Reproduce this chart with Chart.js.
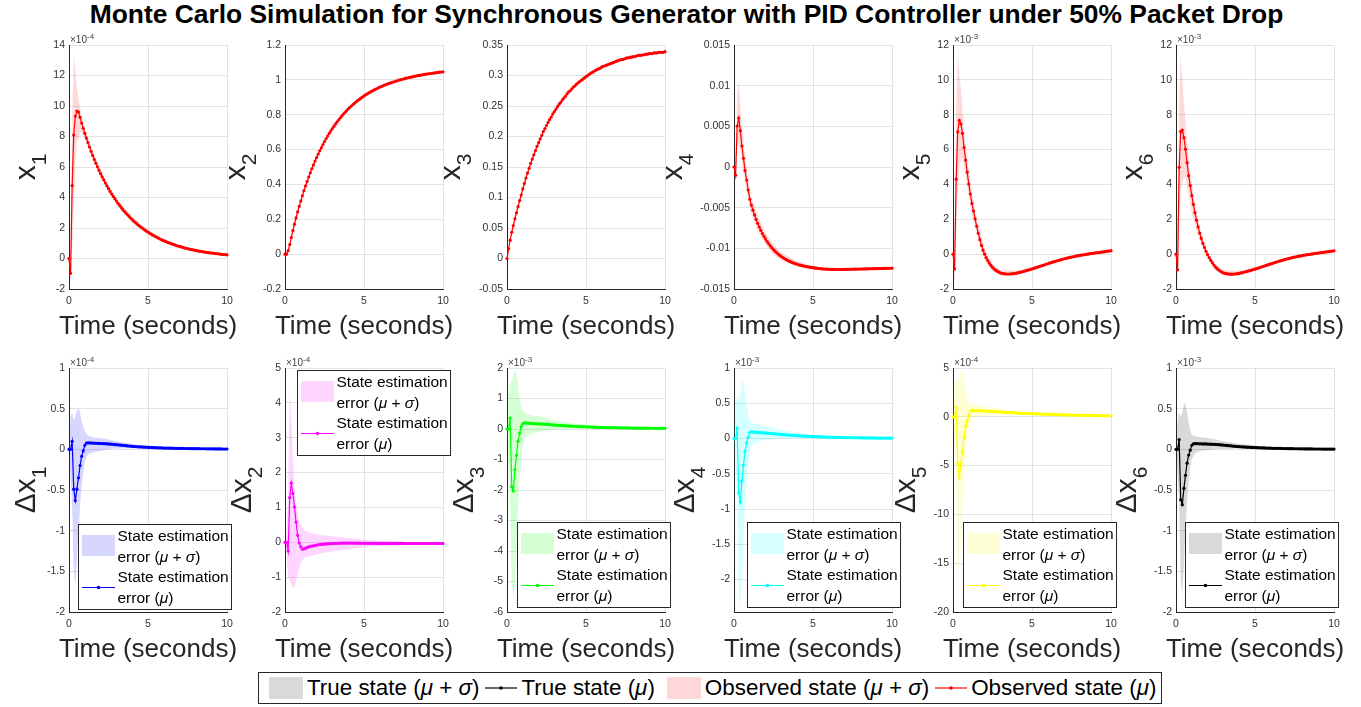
<!DOCTYPE html>
<html><head><meta charset="utf-8">
<script src="https://cdn.jsdelivr.net/npm/chart.js@4.4.0/dist/chart.umd.min.js"></script>
<style>
html,body{margin:0;padding:0;background:#fff;}
body{width:1361px;height:707px;position:relative;overflow:hidden;font-family:"Liberation Sans",Arial,sans-serif;}
#title{position:absolute;left:0;top:1px;width:1373px;text-align:center;font-weight:bold;font-size:26.4px;line-height:26px;color:#000;white-space:nowrap;}
#lg{position:absolute;left:258px;top:672px;width:902px;height:30px;border:1px solid #262626;display:flex;align-items:center;font-size:22.4px;color:#000;white-space:nowrap;background:#fff;}
#lg .sw{display:inline-block;width:34px;height:22px;margin-left:12px;margin-right:4px;}
#lg .ls{margin-left:6px;margin-right:4px;}
#lg i{font-style:italic;}
</style></head><body>
<div id="title">Monte Carlo Simulation for Synchronous Generator with PID Controller under 50% Packet Drop</div>
<div id="lg">
<span class="sw" style="background:rgba(0,0,0,0.15);margin-left:10px"></span><span>True state (<i>μ</i> + <i>σ</i>)</span>
<svg class="ls" width="32" height="10"><line x1="0" y1="5" x2="32" y2="5" stroke="#000" stroke-width="1.2"/><circle cx="16" cy="5" r="1.8" fill="#000"/></svg><span>True state (<i>μ</i>)</span>
<span class="sw" style="background:rgba(255,0,0,0.15)"></span><span>Observed state (<i>μ</i> + <i>σ</i>)</span>
<svg class="ls" width="32" height="10"><line x1="0" y1="5" x2="32" y2="5" stroke="#f00" stroke-width="1.2"/><circle cx="16" cy="5" r="1.8" fill="#f00"/></svg><span>Observed state (<i>μ</i>)</span>
</div>
<script>
// ---------- time axis ----------
const time = [0,0.1,0.2,0.3,0.4,0.5,0.6,0.7,0.8,0.9,1,1.1,1.2,1.3,1.4,1.5,1.6,1.7,1.8,1.9,2,2.1,2.2,2.3,2.4,2.5,2.6,2.7,2.8,2.9,3,3.1,3.2,3.3,3.4,3.5,3.6,3.7,3.8,3.9,4,4.1,4.2,4.3,4.4,4.5,4.6,4.7,4.8,4.9,5,5.1,5.2,5.3,5.4,5.5,5.6,5.7,5.8,5.9,6,6.1,6.2,6.3,6.4,6.5,6.6,6.7,6.8,6.9,7,7.1,7.2,7.3,7.4,7.5,7.6,7.7,7.8,7.9,8,8.1,8.2,8.3,8.4,8.5,8.6,8.7,8.8,8.9,9,9.1,9.2,9.3,9.4,9.5,9.6,9.7,9.8,9.9,10];
const bandTime = [0,0.1,0.2,0.3,0.4,0.5,0.6,0.7,0.8,0.9,1,1.2,1.5,2,2.5,3,4,5,6,7,8,9,10];
const xTicks = [0,5,10];

// ---------- observed states (mean, upper and lower of mu +/- sigma) ----------
// x1 in units of 1e-4
const x1Mean = [0,-0.97,4.78,8.10,9.34,9.67,9.60,9.26,8.88,8.54,8.21,
7.90,7.60,7.31,7.03,6.76,6.50,6.25,6.01,5.78,5.56,
5.35,5.15,4.95,4.76,4.58,4.40,4.23,4.07,3.92,3.77,
3.62,3.48,3.35,3.22,3.10,2.98,2.87,2.76,2.65,2.55,
2.45,2.36,2.27,2.18,2.10,2.02,1.94,1.87,1.79,1.73,
1.66,1.60,1.53,1.48,1.42,1.37,1.31,1.26,1.21,1.17,
1.12,1.08,1.04,1.00,0.96,0.92,0.89,0.85,0.82,0.79,
0.76,0.73,0.70,0.67,0.65,0.62,0.60,0.58,0.55,0.53,
0.51,0.49,0.47,0.46,0.44,0.42,0.40,0.39,0.37,0.36,
0.35,0.33,0.32,0.31,0.30,0.28,0.27,0.26,0.25,0.24];
const x1Upper = [0.1,-0.3,9.0,13.4,12.3,11.2,10.4,9.9,9.3,8.9,8.55,7.9,7.0,5.8,4.8,3.95,2.72,1.85,1.25,0.86,0.58,0.41,0.29];
const x1Lower = [-0.1,-1.7,0.6,3.0,6.4,7.75,7.8,8.3,8.3,8.1,7.85,7.3,6.5,5.35,4.4,3.6,2.4,1.63,1.08,0.72,0.48,0.31,0.19];

const x2Mean = [0,0,0.02,0.055,0.095,0.135,0.172,0.208,0.242,0.274,0.305,
0.335,0.364,0.391,0.417,0.442,0.467,0.490,0.512,0.534,0.554,
0.574,0.593,0.611,0.629,0.646,0.662,0.678,0.693,0.707,0.721,
0.734,0.747,0.759,0.771,0.782,0.793,0.804,0.814,0.823,0.833,
0.842,0.850,0.858,0.866,0.874,0.881,0.888,0.895,0.901,0.908,
0.914,0.919,0.925,0.930,0.935,0.940,0.945,0.949,0.954,0.958,
0.962,0.966,0.970,0.973,0.977,0.980,0.983,0.986,0.989,0.992,
0.995,0.998,1.000,1.003,1.005,1.008,1.010,1.012,1.014,1.016,
1.018,1.020,1.022,1.024,1.026,1.027,1.029,1.031,1.032,1.034,
1.035,1.036,1.038,1.039,1.040,1.041,1.043,1.044,1.045,1.046];
const x2Upper = [0.005,0.008,0.032,0.070,0.111,0.152,0.189,0.225,0.259,0.290,0.321,0.379,0.456,0.566,0.656,0.730,0.840,0.914,0.963,0.997,1.020,1.038,1.050];
const x2Lower = [-0.005,-0.008,0.008,0.040,0.079,0.118,0.155,0.191,0.225,0.258,0.289,0.349,0.428,0.542,0.636,0.712,0.826,0.902,0.953,0.987,1.012,1.030,1.042];

const x3Mean = [0,0.016,0.030,0.043,0.054,0.065,0.075,0.085,0.095,0.104,0.114,
0.123,0.132,0.140,0.148,0.156,0.163,0.170,0.177,0.184,0.190,
0.196,0.202,0.208,0.213,0.218,0.223,0.228,0.232,0.237,0.241,
0.245,0.249,0.253,0.256,0.260,0.263,0.266,0.270,0.273,0.275,
0.278,0.281,0.283,0.286,0.288,0.290,0.292,0.294,0.296,0.298,
0.300,0.302,0.304,0.305,0.307,0.308,0.310,0.311,0.312,0.314,
0.315,0.316,0.317,0.318,0.319,0.320,0.321,0.322,0.323,0.324,
0.325,0.326,0.326,0.327,0.328,0.329,0.329,0.330,0.330,0.331,
0.331,0.332,0.333,0.333,0.333,0.334,0.334,0.335,0.335,0.336,
0.336,0.336,0.337,0.337,0.337,0.338,0.338,0.338,0.338,0.339];
const x3Upper = [0.002,0.020,0.035,0.048,0.059,0.070,0.080,0.090,0.099,0.108,0.118,0.136,0.160,0.193,0.221,0.243,0.277,0.300,0.315,0.325,0.332,0.337,0.340];
const x3Lower = [-0.002,0.012,0.025,0.038,0.049,0.060,0.070,0.080,0.091,0.100,0.110,0.128,0.152,0.187,0.215,0.239,0.273,0.296,0.313,0.323,0.330,0.335,0.338];

const x4Mean = [0,-0.0010,0.00504,0.00602,0.00447,0.00258,0.00107,-0.00045,-0.0016,-0.00283,-0.00398,
-0.00468,-0.00531,-0.00589,-0.00643,-0.00692,-0.00738,-0.00780,-0.00818,-0.00854,-0.00886,
-0.00917,-0.00944,-0.00970,-0.00994,-0.01015,-0.01035,-0.01054,-0.01071,-0.01087,-0.01101,
-0.01114,-0.01127,-0.01138,-0.01148,-0.01158,-0.01167,-0.01175,-0.01182,-0.01189,-0.01196,
-0.01202,-0.01207,-0.01211,-0.01216,-0.01220,-0.01224,-0.01228,-0.01232,-0.01235,-0.01238,
-0.01241,-0.01244,-0.01246,-0.01248,-0.01250,-0.01252,-0.01254,-0.01255,-0.01256,-0.01257,
-0.01258,-0.01259,-0.01259,-0.01260,-0.01260,-0.01260,-0.01260,-0.01260,-0.01260,-0.01259,
-0.01259,-0.01258,-0.01258,-0.01257,-0.01257,-0.01256,-0.01256,-0.01255,-0.01255,-0.01254,
-0.01254,-0.01253,-0.01253,-0.01252,-0.01252,-0.01251,-0.01251,-0.01250,-0.01250,-0.01249,
-0.01249,-0.01248,-0.01248,-0.01247,-0.01247,-0.01246,-0.01246,-0.01245,-0.01245,-0.01244];
const x4Upper = [0.0002,-0.0003,0.0088,0.0105,0.0078,0.0050,0.0030,0.0012,-0.0001,-0.0014,-0.0028,-0.0043,-0.0060,-0.0081,-0.0095,-0.0105,-0.0116,-0.0122,-0.0124,-0.0124,-0.0124,-0.0123,-0.0123];
const x4Lower = [-0.0002,-0.0019,0.0025,0.0030,0.0020,0.0007,-0.0006,-0.0019,-0.0030,-0.0041,-0.0052,-0.0063,-0.0078,-0.0096,-0.0108,-0.0115,-0.0123,-0.0127,-0.0128,-0.0128,-0.0127,-0.0127,-0.0126];

// x5, x6 in units of 1e-3
const x5Mean = [0,-0.85,4.30,7.02,7.68,7.47,6.93,6.12,5.40,4.70,4.02,
3.45,2.91,2.47,2.03,1.60,1.20,0.83,0.50,0.23,0.00,
-0.20,-0.37,-0.52,-0.65,-0.76,-0.85,-0.92,-0.98,-1.03,-1.07,
-1.10,-1.12,-1.13,-1.14,-1.14,-1.14,-1.13,-1.12,-1.11,-1.09,
-1.07,-1.05,-1.03,-1.01,-0.98,-0.96,-0.93,-0.90,-0.88,-0.85,
-0.82,-0.79,-0.76,-0.73,-0.70,-0.67,-0.64,-0.61,-0.58,-0.55,
-0.52,-0.49,-0.46,-0.43,-0.41,-0.38,-0.35,-0.33,-0.30,-0.28,
-0.25,-0.23,-0.21,-0.19,-0.17,-0.15,-0.13,-0.11,-0.09,-0.08,
-0.06,-0.05,-0.03,-0.02,0.00,0.01,0.03,0.04,0.05,0.07,
0.08,0.09,0.10,0.12,0.13,0.14,0.16,0.17,0.18,0.20];
const x5Upper = [0.1,0.0,8.5,11.5,10.4,9.4,8.3,7.2,6.3,5.5,4.8,3.5,2.0,0.35,-0.55,-0.92,-0.95,-0.74,-0.47,-0.20,0.0,0.16,0.30];
const x5Lower = [-0.1,-1.8,1.0,3.5,5.0,5.4,5.5,5.0,4.5,3.9,3.3,2.3,1.2,-0.35,-0.97,-1.22,-1.23,-0.96,-0.63,-0.36,-0.16,-0.02,0.10];

const x6Mean = [0,-0.90,4.98,7.03,7.12,6.68,6.02,5.25,4.50,3.93,3.36,
2.85,2.38,1.95,1.56,1.21,0.90,0.62,0.38,0.16,-0.03,
-0.20,-0.36,-0.50,-0.63,-0.74,-0.83,-0.91,-0.97,-1.03,-1.07,
-1.10,-1.12,-1.14,-1.15,-1.15,-1.15,-1.14,-1.13,-1.12,-1.10,
-1.08,-1.06,-1.04,-1.01,-0.99,-0.96,-0.94,-0.91,-0.88,-0.86,
-0.83,-0.80,-0.77,-0.74,-0.71,-0.68,-0.65,-0.62,-0.59,-0.56,
-0.53,-0.50,-0.47,-0.44,-0.41,-0.39,-0.36,-0.33,-0.31,-0.28,
-0.26,-0.24,-0.21,-0.19,-0.17,-0.15,-0.13,-0.11,-0.10,-0.08,
-0.06,-0.05,-0.03,-0.02,-0.01,0.01,0.02,0.04,0.05,0.06,
0.08,0.09,0.10,0.11,0.13,0.14,0.15,0.16,0.18,0.19];
const x6Upper = [0.1,0.0,9.0,11.4,10.0,8.8,7.6,6.5,5.6,4.8,4.1,2.9,1.5,0.12,-0.55,-0.92,-0.95,-0.75,-0.48,-0.20,0.0,0.15,0.29];
const x6Lower = [-0.1,-1.9,1.5,3.6,4.1,4.4,4.4,4.0,3.4,2.9,2.4,1.7,0.8,-0.2,-0.93,-1.22,-1.25,-0.97,-0.64,-0.36,-0.16,-0.03,0.10];

// ---------- state estimation errors ----------
// dx1, dx2, dx5 in units of 1e-4 ; dx3, dx4, dx6 in units of 1e-3
const dx1Mean = [0,0,0.098,-0.49,-0.63,-0.49,-0.35,-0.20,-0.086,-0.02,0.05,
0.078,0.080,0.079,0.078,0.077,0.076,0.075,0.074,0.073,0.072,
0.071,0.070,0.069,0.067,0.066,0.064,0.063,0.061,0.059,0.057,
0.055,0.053,0.051,0.049,0.047,0.045,0.043,0.041,0.039,0.037,
0.035,0.034,0.032,0.031,0.030,0.029,0.028,0.027,0.026,0.025,
0.024,0.023,0.022,0.021,0.020,0.019,0.018,0.018,0.017,0.016,
0.016,0.015,0.015,0.014,0.014,0.013,0.013,0.012,0.012,0.012,
0.011,0.011,0.010,0.010,0.010,0.009,0.009,0.009,0.008,0.008,
0.008,0.008,0.007,0.007,0.007,0.007,0.006,0.006,0.006,0.006,
0.006,0.005,0.005,0.005,0.005,0.005,0.004,0.004,0.004,0.004];
const dx1Upper = [0.0,0.40,0.45,0.35,0.40,0.48,0.50,0.45,0.35,0.28,0.22,0.17,0.15,0.14,0.12,0.10,0.065,0.04,0.025,0.017,0.012,0.009,0.007];
const dx1Lower = [0.0,-0.35,-0.70,-1.50,-1.68,-1.35,-1.00,-0.70,-0.45,-0.28,-0.14,-0.06,-0.04,-0.02,0.0,0.01,0.012,0.01,0.008,0.006,0.004,0.003,0.002];

const dx2Mean = [0,0,-0.25,1.28,1.70,1.40,1.01,0.58,0.20,-0.02,-0.13,
-0.20,-0.19,-0.17,-0.15,-0.13,-0.12,-0.11,-0.10,-0.09,-0.08,
-0.07,-0.065,-0.06,-0.055,-0.05,-0.047,-0.044,-0.041,-0.038,-0.035,
-0.033,-0.031,-0.029,-0.027,-0.026,-0.025,-0.024,-0.023,-0.023,-0.023,
-0.023,-0.024,-0.024,-0.025,-0.025,-0.026,-0.026,-0.027,-0.027,-0.028,
-0.028,-0.029,-0.029,-0.030,-0.030,-0.030,-0.031,-0.031,-0.031,-0.032,
-0.032,-0.032,-0.032,-0.033,-0.033,-0.033,-0.033,-0.033,-0.034,-0.034,
-0.034,-0.034,-0.034,-0.034,-0.034,-0.035,-0.035,-0.035,-0.035,-0.035,
-0.035,-0.035,-0.035,-0.035,-0.035,-0.035,-0.035,-0.035,-0.035,-0.035,
-0.035,-0.035,-0.035,-0.035,-0.035,-0.035,-0.035,-0.035,-0.035,-0.035];
const dx2Upper = [0.0,0.3,1.5,4.3,3.5,2.5,1.6,1.1,0.8,0.6,0.5,0.35,0.27,0.22,0.2,0.17,0.12,0.07,0.04,0.02,0.0,-0.01,-0.01];
const dx2Lower = [0.0,-0.3,-1.0,-1.1,-1.2,-1.3,-1.3,-1.1,-0.9,-0.75,-0.6,-0.45,-0.4,-0.35,-0.3,-0.26,-0.2,-0.14,-0.1,-0.09,-0.08,-0.07,-0.06];

const dx3Mean = [0,0,0.36,-1.9,-2.03,-1.33,-0.86,-0.4,-0.14,0.08,0.17,
0.20,0.20,0.19,0.19,0.18,0.18,0.18,0.17,0.17,0.17,
0.165,0.16,0.16,0.155,0.15,0.15,0.145,0.14,0.135,0.13,
0.125,0.12,0.12,0.115,0.11,0.11,0.105,0.10,0.10,0.095,
0.095,0.09,0.09,0.085,0.085,0.08,0.08,0.075,0.075,0.07,
0.07,0.068,0.066,0.064,0.062,0.06,0.058,0.056,0.054,0.052,
0.05,0.049,0.048,0.047,0.046,0.045,0.044,0.043,0.042,0.041,
0.04,0.039,0.038,0.037,0.036,0.035,0.034,0.033,0.032,0.031,
0.03,0.03,0.029,0.029,0.028,0.028,0.027,0.027,0.026,0.026,
0.025,0.025,0.024,0.024,0.023,0.023,0.022,0.022,0.021,0.021];
const dx3Upper = [0.0,1.2,1.5,1.6,1.7,1.9,1.8,1.4,1.0,0.75,0.6,0.5,0.45,0.42,0.35,0.28,0.2,0.13,0.09,0.065,0.05,0.04,0.032];
const dx3Lower = [0.0,-1.0,-2.5,-5.0,-5.6,-5.0,-3.8,-2.6,-1.7,-1.0,-0.55,-0.25,-0.15,-0.1,-0.05,-0.02,0.0,0.01,0.015,0.015,0.012,0.012,0.01];

const dx4Mean = [0,0,0.15,-0.77,-0.9,-0.6,-0.38,-0.18,-0.06,0.02,0.086,
0.095,0.093,0.09,0.088,0.086,0.085,0.083,0.082,0.08,0.078,
0.076,0.074,0.072,0.070,0.068,0.066,0.064,0.062,0.060,0.058,
0.056,0.054,0.052,0.050,0.048,0.046,0.045,0.043,0.042,0.040,
0.039,0.037,0.036,0.035,0.034,0.033,0.032,0.031,0.030,0.029,
0.028,0.027,0.026,0.025,0.024,0.023,0.022,0.021,0.020,0.019,
0.019,0.018,0.017,0.017,0.016,0.016,0.015,0.015,0.014,0.014,
0.013,0.013,0.012,0.012,0.012,0.011,0.011,0.011,0.010,0.010,
0.010,0.009,0.009,0.009,0.009,0.008,0.008,0.008,0.008,0.007,
0.007,0.007,0.007,0.007,0.006,0.006,0.006,0.006,0.006,0.006];
const dx4Upper = [0.0,0.5,0.6,0.55,0.65,0.8,0.8,0.65,0.45,0.33,0.26,0.22,0.2,0.18,0.15,0.12,0.08,0.05,0.035,0.025,0.018,0.014,0.011];
const dx4Lower = [0.0,-0.4,-0.9,-2.2,-2.4,-2.0,-1.4,-0.95,-0.6,-0.35,-0.18,-0.08,-0.04,-0.02,-0.01,0.0,0.005,0.008,0.006,0.004,0.003,0.002,0.001];

const dx5Mean = [0,0,1.0,-4.8,-6.2,-4.8,-3.6,-2.1,-1.0,-0.45,0.17,
0.60,0.65,0.64,0.63,0.63,0.62,0.62,0.61,0.60,0.60,
0.59,0.58,0.57,0.56,0.55,0.54,0.53,0.52,0.51,0.50,
0.49,0.48,0.47,0.46,0.45,0.44,0.43,0.42,0.41,0.40,
0.39,0.38,0.37,0.36,0.36,0.35,0.34,0.33,0.33,0.32,
0.31,0.30,0.30,0.29,0.28,0.28,0.27,0.27,0.26,0.25,
0.25,0.24,0.24,0.23,0.23,0.22,0.22,0.21,0.21,0.20,
0.20,0.19,0.19,0.18,0.18,0.18,0.17,0.17,0.16,0.16,
0.16,0.15,0.15,0.15,0.14,0.14,0.14,0.13,0.13,0.13,
0.12,0.12,0.12,0.12,0.11,0.11,0.11,0.11,0.10,0.10];
const dx5Upper = [0.0,3.5,4.0,3.5,4.0,4.7,4.6,3.7,2.6,1.9,1.5,1.3,1.2,1.1,0.95,0.8,0.6,0.42,0.32,0.25,0.2,0.16,0.13];
const dx5Lower = [0.0,-3.0,-6.0,-15.0,-16.5,-13.0,-9.0,-6.0,-3.5,-2.0,-1.0,-0.3,0.0,0.1,0.15,0.18,0.18,0.2,0.18,0.15,0.12,0.1,0.08];

const dx6Mean = [0,0,0.12,-0.62,-0.68,-0.48,-0.32,-0.17,-0.07,-0.01,0.05,
0.068,0.07,0.07,0.069,0.068,0.068,0.067,0.067,0.066,0.065,
0.064,0.063,0.062,0.061,0.060,0.058,0.057,0.055,0.054,0.052,
0.050,0.048,0.046,0.044,0.042,0.040,0.038,0.036,0.035,0.033,
0.032,0.030,0.029,0.028,0.027,0.026,0.025,0.024,0.023,0.022,
0.021,0.020,0.019,0.018,0.017,0.017,0.016,0.015,0.015,0.014,
0.013,0.013,0.012,0.012,0.011,0.011,0.010,0.010,0.009,0.009,
0.009,0.008,0.008,0.008,0.007,0.007,0.007,0.006,0.006,0.006,
0.006,0.005,0.005,0.005,0.005,0.005,0.004,0.004,0.004,0.004,
0.004,0.004,0.003,0.003,0.003,0.003,0.003,0.003,0.003,0.003];
const dx6Upper = [0.0,0.35,0.45,0.4,0.45,0.55,0.57,0.45,0.32,0.23,0.18,0.16,0.15,0.14,0.12,0.1,0.07,0.045,0.03,0.02,0.015,0.01,0.008];
const dx6Lower = [0.0,-0.3,-0.7,-1.6,-1.8,-1.4,-1.0,-0.65,-0.4,-0.25,-0.12,-0.05,-0.02,-0.01,0.0,0.005,0.01,0.005,0.003,0.002,0.001,0.0,-0.001];

// ---------- layout ----------
const PLOT_W = 158, PLOT_H = 244;
const PAD_L = 80, PAD_R = 30, PAD_T = 16, PAD_B = 60;
const FONT = '"Liberation Sans", Arial, sans-serif';
const TOP = 45, BOT = 368;
const COLS = [69, 285, 507, 734, 953, 1176];

const panels = [
 {left:COLS[0],top:TOP,mean:x1Mean,upper:x1Upper,lower:x1Lower,yMin:-2,yMax:14,yStep:2,base:'x',sub:'1',exp:'-4',color:'#ff0000',band:'rgba(255,0,0,0.15)',lab:34},
 {left:COLS[1],top:TOP,mean:x2Mean,upper:x2Upper,lower:x2Lower,yMin:-0.2,yMax:1.2,yStep:0.2,base:'x',sub:'2',exp:null,color:'#ff0000',band:'rgba(255,0,0,0.15)',lab:40},
 {left:COLS[2],top:TOP,mean:x3Mean,upper:x3Upper,lower:x3Lower,yMin:-0.05,yMax:0.35,yStep:0.05,base:'x',sub:'3',exp:null,color:'#ff0000',band:'rgba(255,0,0,0.15)',lab:47},
 {left:COLS[3],top:TOP,mean:x4Mean,upper:x4Upper,lower:x4Lower,yMin:-0.015,yMax:0.015,yStep:0.005,base:'x',sub:'4',exp:null,color:'#ff0000',band:'rgba(255,0,0,0.15)',lab:52},
 {left:COLS[4],top:TOP,mean:x5Mean,upper:x5Upper,lower:x5Lower,yMin:-2,yMax:12,yStep:2,base:'x',sub:'5',exp:'-3',color:'#ff0000',band:'rgba(255,0,0,0.15)',lab:34},
 {left:COLS[5],top:TOP,mean:x6Mean,upper:x6Upper,lower:x6Lower,yMin:-2,yMax:12,yStep:2,base:'x',sub:'6',exp:'-3',color:'#ff0000',band:'rgba(255,0,0,0.15)',lab:34},
 {left:COLS[0],top:BOT,mean:dx1Mean,upper:dx1Upper,lower:dx1Lower,yMin:-2,yMax:1,yStep:0.5,base:'Δx',sub:'1',exp:'-4',color:'#0000ff',band:'rgba(0,0,255,0.16)',lab:34,leg:[78,524]},
 {left:COLS[1],top:BOT,mean:dx2Mean,upper:dx2Upper,lower:dx2Lower,yMin:-2,yMax:5,yStep:1,base:'Δx',sub:'2',exp:'-4',color:'#ff00ff',band:'rgba(255,0,255,0.16)',lab:34,leg:[297,370]},
 {left:COLS[2],top:BOT,mean:dx3Mean,upper:dx3Upper,lower:dx3Lower,yMin:-6,yMax:2,yStep:1,base:'Δx',sub:'3',exp:'-3',color:'#00ff00',band:'rgba(0,255,0,0.16)',lab:34,leg:[517,522]},
 {left:COLS[3],top:BOT,mean:dx4Mean,upper:dx4Upper,lower:dx4Lower,yMin:-2.46,yMax:1,yStep:0.5,base:'Δx',sub:'4',exp:'-3',color:'#00ffff',band:'rgba(0,255,255,0.16)',lab:40,leg:[747,522]},
 {left:COLS[4],top:BOT,mean:dx5Mean,upper:dx5Upper,lower:dx5Lower,yMin:-20,yMax:5,yStep:5,base:'Δx',sub:'5',exp:'-4',color:'#ffff00',band:'rgba(255,255,0,0.16)',lab:38,leg:[963,522]},
 {left:COLS[5],top:BOT,mean:dx6Mean,upper:dx6Upper,lower:dx6Lower,yMin:-2,yMax:1,yStep:0.5,base:'Δx',sub:'6',exp:'-3',color:'#000000',band:'rgba(0,0,0,0.15)',lab:40,leg:[1185,522]}
];

function runsWidth(ctx, runs){ let w=0; for(const r of runs){ ctx.font=r.f; w+=ctx.measureText(r.t).width; } return w; }
function drawRuns(ctx, runs, x, y, center){
  let cx = center ? x - runsWidth(ctx, runs)/2 : x;
  for(const r of runs){ ctx.font=r.f; ctx.fillText(r.t, cx, y + (r.dy||0)); cx += ctx.measureText(r.t).width; }
}

function makeDecor(p){
  return {
    id:'decor',
    afterDraw(chart){
      const ctx = chart.ctx, a = chart.chartArea;
      const ox = p.left - PAD_L, oy = p.top - PAD_T;
      ctx.save();
      ctx.textAlign = 'left';
      // x axis title
      ctx.fillStyle = '#262626'; ctx.textBaseline = 'middle';
      drawRuns(ctx, [{t:'Time (seconds)', f:'26px '+FONT}], (a.left+a.right)/2, a.bottom+37.5, true);
      // y axis title (rotated, with subscript)
      ctx.textBaseline = 'alphabetic';
      ctx.save();
      ctx.translate(a.left - p.lab, (a.top+a.bottom)/2);
      ctx.rotate(-Math.PI/2);
      drawRuns(ctx, [{t:p.base, f:'30px '+FONT},{t:p.sub, f:'21px '+FONT, dy:11}], 0, 0, true);
      ctx.restore();
      // exponent label
      if (p.exp){
        ctx.fillStyle = '#404040';
        drawRuns(ctx, [{t:'×10', f:'10px '+FONT},{t:p.exp, f:'8px '+FONT, dy:-4.5}], a.left+1, a.top-2, false);
      }
      // panel legend
      if (p.leg){
        const x = p.leg[0]-ox, y = p.leg[1]-oy, w = 154, h = 86;
        ctx.fillStyle = '#fff'; ctx.fillRect(x, y, w, h);
        ctx.strokeStyle = '#262626'; ctx.lineWidth = 1; ctx.strokeRect(x+0.5, y+0.5, w-1, h-1);
        ctx.fillStyle = p.band; ctx.fillRect(x+4, y+11, 33, 21);
        ctx.strokeStyle = p.color; ctx.lineWidth = 1.2;
        ctx.beginPath(); ctx.moveTo(x+4, y+63.5); ctx.lineTo(x+37, y+63.5); ctx.stroke();
        ctx.fillStyle = p.color; ctx.beginPath(); ctx.arc(x+20.5, y+63.5, 1.8, 0, 2*Math.PI); ctx.fill();
        ctx.fillStyle = '#000'; ctx.textBaseline = 'middle';
        const f = '15.5px '+FONT, fi = 'italic 15.5px '+FONT;
        drawRuns(ctx, [{t:'State estimation', f}], x+39.5, y+13, false);
        drawRuns(ctx, [{t:'error (', f},{t:'μ', f:fi},{t:' + ', f},{t:'σ', f:fi},{t:')', f}], x+39.5, y+33.5, false);
        drawRuns(ctx, [{t:'State estimation', f}], x+39.5, y+54, false);
        drawRuns(ctx, [{t:'error (', f},{t:'μ', f:fi},{t:')', f}], x+39.5, y+74.5, false);
      }
      ctx.restore();
    }
  };
}

const fmt = v => String(+Number(v).toFixed(6));

panels.forEach(p => {
  const W = PAD_L + PLOT_W + PAD_R, H = PAD_T + PLOT_H + PAD_B;
  const c = document.createElement('canvas');
  c.width = W; c.height = H;
  c.style.cssText = 'position:absolute;left:'+(p.left-PAD_L)+'px;top:'+(p.top-PAD_T)+'px;width:'+W+'px;height:'+H+'px;';
  document.body.appendChild(c);
  new Chart(c.getContext('2d'), {
    type:'line',
    data:{datasets:[
      {data: time.map((t,i)=>({x:t,y:p.mean[i]})), borderColor:p.color, backgroundColor:p.color,
       borderWidth:1.2, pointRadius:1.6, pointBorderWidth:0, pointBackgroundColor:p.color,
       tension:0, fill:false, order:0, clip:5},
      {data: bandTime.map((t,i)=>({x:t,y:p.upper[i]})), borderColor:'rgba(0,0,0,0)', borderWidth:0,
       pointRadius:0, backgroundColor:p.band, fill:'+1', tension:0, order:1},
      {data: bandTime.map((t,i)=>({x:t,y:p.lower[i]})), borderColor:'rgba(0,0,0,0)', borderWidth:0,
       pointRadius:0, backgroundColor:'rgba(0,0,0,0)', fill:false, tension:0, order:1}
    ]},
    options:{
      responsive:false, animation:false, devicePixelRatio:1,
      layout:{padding:{left:0, right:PAD_R, top:PAD_T, bottom:0}},
      plugins:{legend:{display:false}, tooltip:{enabled:false}},
      scales:{
        x:{type:'linear', min:0, max:10,
           afterBuildTicks: s => { s.ticks = xTicks.map(v=>({value:v})); },
           ticks:{color:'#333', font:{family:FONT, size:10.5}, padding:6, maxRotation:0, callback:fmt},
           grid:{color:'#e3e3e3', drawTicks:false, lineWidth:1},
           border:{color:'#262626', width:1},
           afterFit: s => { s.height = PAD_B; }},
        y:{type:'linear', min:p.yMin, max:p.yMax,
           ticks:{stepSize:p.yStep, includeBounds:false, color:'#333', font:{family:FONT, size:10.5}, padding:4, callback:fmt, autoSkip:false},
           grid:{color:'#e3e3e3', drawTicks:false, lineWidth:1},
           border:{color:'#262626', width:1},
           afterFit: s => { s.width = PAD_L; }}
      }
    },
    plugins:[makeDecor(p)]
  });
});
</script>
</body></html>
